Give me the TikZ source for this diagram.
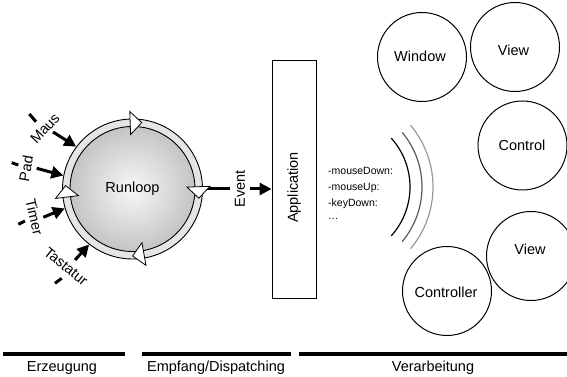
\documentclass[tikz,border=0pt]{standalone}
\usepackage{fontspec}
\setmainfont{Liberation Sans}
\usetikzlibrary{arrows.meta,calc}
\begin{document}
\begin{tikzpicture}[x=1pt,y=1pt,
  lab/.style={font=\fontsize{14.5}{16}\selectfont, inner sep=1pt},
  meth/.style={font=\fontsize{10.5}{12}\selectfont, anchor=west, inner sep=0pt},
  inarrow/.style={line width=3pt, -{Triangle[length=12pt,width=12pt]}},
  tickmark/.style={line width=3pt},
  obj/.style={circle, draw, line width=1pt, minimum size=89pt, inner sep=0pt},
  phase/.style={line width=4pt},
  tri/.style={draw, fill=white, line width=0.8pt, line join=miter}
]
\useasboundingbox (0,0) rectangle (567,377);

% Runloop
\node[circle, draw, line width=0.9pt, fill=gray!20, minimum size=140pt, inner sep=0pt] (rl) at (132.5,188) {};
\shade[inner color=gray!6, outer color=gray!46] (rl.center) circle[radius=62.5pt];
\draw[line width=0.9pt] (rl.center) circle[radius=62.5pt];
\node[lab] (rltext) at (rl.center) {Runloop};

% Event
\node[lab, rotate=90, inner sep=4.5pt] (ev) at (240,188) {Event};
\node[draw, line width=0.9pt, minimum width=44pt, minimum height=237.5pt, inner sep=0pt] (app) at (294,197.75) {};
\node[lab, rotate=90] (apptext) at (294,189.5) {Application};
\draw[line width=3pt] (rl.east) -- (ev.north);
\draw[inarrow] (ev.south) -- (ev.south -| app.west);

% ring triangles
\foreach \a in {92,2,280,187} {
  \draw[tri] ($(rl.center)+(\a:54.5pt)$) -- ($(rl.center)+(\a:77.5pt)$) -- ($(rl.center)+(\a:66pt)+(\a-90:11.5pt)$) -- cycle;
}

% inputs
\coordinate (mausS) at (53,245);
\draw[inarrow] (mausS) -- (rl.143);
\node[lab, rotate=47] (maus) at (45,248.5) {Maus};
\draw[tickmark] (29.3,263) -- (36,255.3);

\coordinate (padS) at (36.7,208.7);
\draw[inarrow] (padS) -- (rl.169);
\node[lab, rotate=80] (pad) at (26,208.5) {Pad};
\draw[tickmark] (11.7,214.3) -- (18.3,212);

\coordinate (timerS) at (43.3,159.7);
\draw[inarrow] (timerS) -- (rl.196);
\node[lab, rotate=-77] (timer) at (34.5,159.7) {Timer};
\draw[tickmark] (18.3,152.7) -- (25,156);

\coordinate (tastS) at (75,117);
\draw[inarrow] (tastS) -- (rl.232);
\node[lab, rotate=-39] (tast) at (66,110.5) {Tastatur};
\draw[tickmark] (55,93.7) -- (61.7,98.7);

% methods
\node[meth] (m1) at (328,206) {-mouseDown:};
\node[meth] (m2) at (328,189.5) {-mouseUp:};
\node[meth] (m3) at (328,173) {-keyDown:};
\node[meth] (m4) at (328,158.5) {…};

% arcs
\coordinate (arcc) at (337,190);
\draw[line width=1.2pt, black] ([shift={(arcc)}]-42:73pt) arc[start angle=-42, end angle=42, radius=73pt];
\draw[line width=1.2pt, black!65] ([shift={(arcc)}]-40:85pt) arc[start angle=-40, end angle=40, radius=85pt];
\draw[line width=1.2pt, black!40] ([shift={(arcc)}]-40:96pt) arc[start angle=-40, end angle=40, radius=96pt];

% objects
\node[obj] (win) at (422,320) {};
\node[lab] (wint) at (420,321) {Window};
\node[obj] (view1) at (515,330) {};
\node[lab] (view1t) at (513.5,327) {View};
\node[obj] (ctrl) at (522.5,231.5) {};
\node[lab] (ctrlt) at (522,232) {Control};
\node[obj] (view2) at (531,121) {};
\node[lab] (view2t) at (530,128) {View};
\node[obj] (contr) at (447,86) {};
\node[lab] (contrt) at (446,85) {Controller};

% phases
\draw[phase] (3,23) -- (125,23);
\draw[phase] (142,23) -- (291,23);
\draw[phase] (299,23) -- (567,23);
\node[lab] (p1) at (62,9) {Erzeugung};
\node[lab] (p2) at (216,9) {Empfang/Dispatching};
\node[lab] (p3) at (433,9) {Verarbeitung};
\end{tikzpicture}
\end{document}
